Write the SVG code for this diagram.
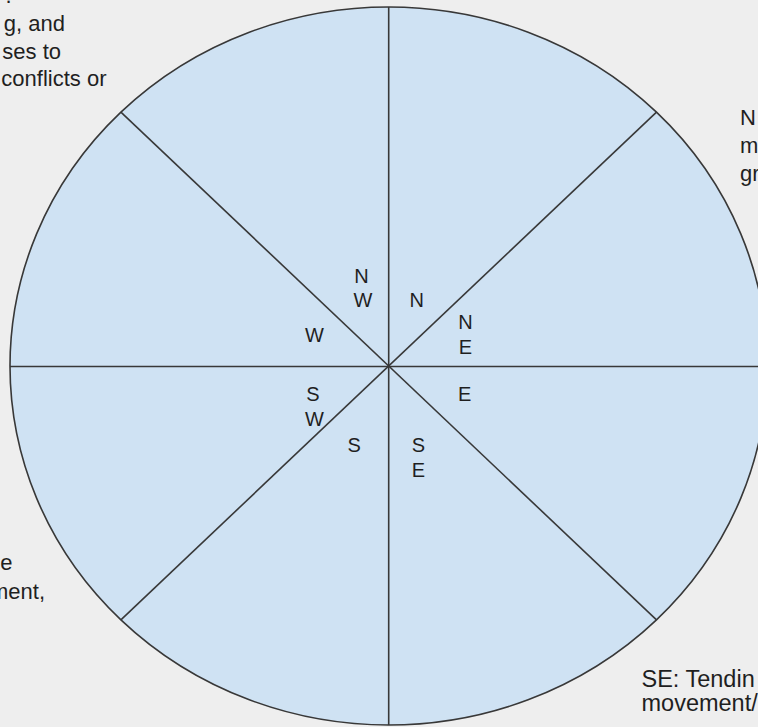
<svg xmlns="http://www.w3.org/2000/svg" width="758" height="727" viewBox="0 0 758 727">
  <style>
    .bg { fill: #eeeeee; }
    .wheel { fill: #cfe2f3; stroke: #383838; stroke-width: 1.6; }
    .spoke { stroke: #383838; stroke-width: 1.6; fill: none; }
    .lbl { font-family: "Liberation Sans", Arial, sans-serif; font-size: 20px; fill: #1f1f1f; text-anchor: middle; }
    .note { font-family: "Liberation Sans", Arial, sans-serif; font-size: 22px; fill: #1f1f1f; }
    .big { font-size: 23.5px; }
    .end { text-anchor: end; }
  </style>
  <rect class="bg" x="0" y="0" width="758" height="727"/>
  <g id="wheel">
    <ellipse class="wheel" cx="388.7" cy="366" rx="378.7" ry="359"/>
  </g>
  <g id="connectors">
    <line class="spoke" x1="388.7" y1="7" x2="388.7" y2="725"/>
    <line class="spoke" x1="10" y1="366.5" x2="767.4" y2="366.5"/>
    <line class="spoke" x1="120.9" y1="112.1" x2="656.5" y2="619.9"/>
    <line class="spoke" x1="120.9" y1="619.9" x2="656.5" y2="112.1"/>
  </g>
  <g id="label-N"><text class="lbl" x="416.7" y="307.3">N</text></g>
  <g id="label-NE"><text class="lbl" x="465.5" y="329">N</text><text class="lbl" x="465.5" y="354">E</text></g>
  <g id="label-E"><text class="lbl" x="464.7" y="400.7">E</text></g>
  <g id="label-SE"><text class="lbl" x="418.5" y="451.7">S</text><text class="lbl" x="418.5" y="476.7">E</text></g>
  <g id="label-S"><text class="lbl" x="354.2" y="451.7">S</text></g>
  <g id="label-SW"><text class="lbl" x="313" y="400.7">S</text><text class="lbl" x="314.5" y="425.7">W</text></g>
  <g id="label-W"><text class="lbl" x="314.5" y="341.7">W</text></g>
  <g id="label-NW"><text class="lbl" x="361.5" y="283.3">N</text><text class="lbl" x="363" y="307.3">W</text></g>
  <g id="note-NW">
    <text class="note" x="5.5" y="3">.</text>
    <text class="note end" x="65" y="31">g, and</text>
    <text class="note end" x="61" y="58.5">ses to</text>
    <text class="note end" x="106.5" y="86">conflicts or</text>
  </g>
  <g id="note-NE">
    <text class="note" x="740" y="125">N</text>
    <text class="note" x="740" y="153">m</text>
    <text class="note" x="740" y="181">gr</text>
  </g>
  <g id="note-SW">
    <text class="note end" x="12.6" y="570">e</text>
    <text class="note end" x="45" y="598.5">ment,</text>
  </g>
  <g id="note-SE">
    <text class="note big" x="641.5" y="687">SE: Tendin</text>
    <text class="note big" x="641.5" y="711">movement/</text>
  </g>
</svg>
